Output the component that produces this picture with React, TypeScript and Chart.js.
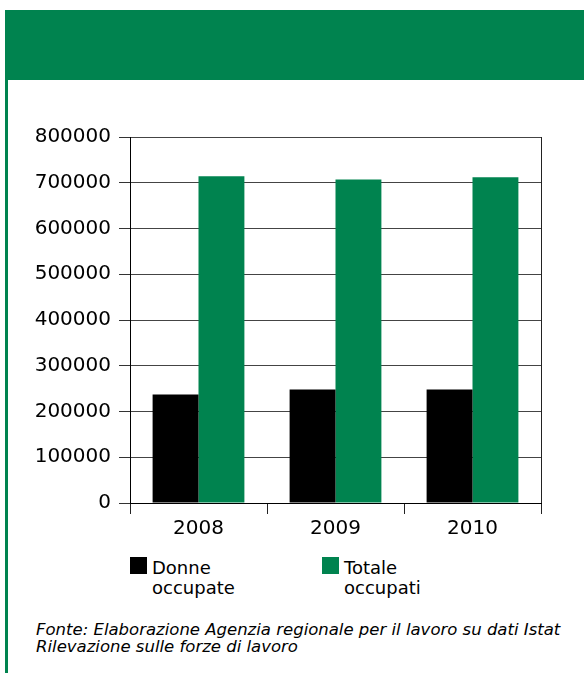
import React, { useEffect, useRef } from "react";
import { Chart, registerables } from "chart.js";

Chart.register(...registerables);

const categories = ["2008", "2009", "2010"];
const donneOccupate = [237000, 248000, 248000];
const totaleOccupati = [714000, 707000, 712000];
const yTicks = [0, 100000, 200000, 300000, 400000, 500000, 600000, 700000, 800000];
const legendLabels = [
  ["Donne", "occupate"],
  ["Totale", "occupati"],
];
const sourceLines = [
  "Fonte: Elaborazione Agenzia regionale per il lavoro su dati Istat",
  "Rilevazione sulle forze di lavoro",
];

const GREEN = "#00834F";
const BLACK = "#000000";

export default function App() {
  const ref = useRef<HTMLCanvasElement>(null);

  useEffect(() => {
    if (!ref.current) return;
    const chart = new Chart(ref.current, {
      type: "bar",
      data: {
        labels: categories,
        datasets: [
          {
            label: legendLabels[0].join(" "),
            data: donneOccupate,
            backgroundColor: BLACK,
            borderWidth: 0,
            categoryPercentage: 0.67,
            barPercentage: 1,
          },
          {
            label: legendLabels[1].join(" "),
            data: totaleOccupati,
            backgroundColor: GREEN,
            borderWidth: 0,
            categoryPercentage: 0.67,
            barPercentage: 1,
          },
        ],
      },
      options: {
        animation: false,
        responsive: false,
        maintainAspectRatio: false,
        layout: { padding: { left: 0, right: 43, top: 27, bottom: 0 } },
        plugins: {
          legend: { display: false },
          tooltip: { enabled: false },
        },
        scales: {
          x: {
            grid: {
              offset: true,
              drawOnChartArea: true,
              color: (c: any) => (c.type === "scale" ? "#222222" : "rgba(0,0,0,0)"),
              tickColor: "#222222",
              tickLength: 11,
              lineWidth: 1,
            },
            border: { color: "#000000", width: 1 },
            ticks: {
              color: "#000000",
              font: { family: "DejaVu Sans", size: 20 },
              padding: 3,
            },
            afterFit: (s: any) => {
              s.height = 42;
            },
          },
          y: {
            min: 0,
            max: 800000,
            grid: {
              color: "#444444",
              tickColor: "#333333",
              tickLength: 11,
              lineWidth: 1,
            },
            border: { color: "#000000", width: 1 },
            afterBuildTicks: (s: any) => {
              s.ticks = yTicks.map((v) => ({ value: v }));
            },
            ticks: {
              color: "#000000",
              font: { family: "DejaVu Sans", size: 20 },
              padding: 8,
              callback: (v: any) => String(v),
            },
            afterFit: (s: any) => {
              s.width = 130;
            },
          },
        },
      },
    });
    return () => chart.destroy();
  }, []);

  const legendColors = [BLACK, GREEN];
  const legendX = [130, 322];

  return (
    <div
      style={{
        position: "absolute",
        left: 0,
        top: 0,
        width: 584,
        height: 673,
        background: "#ffffff",
        overflow: "hidden",
      }}
    >
      <div style={{ position: "absolute", left: 5, top: 10, width: 579, height: 70, background: GREEN }} />
      <div style={{ position: "absolute", left: 5, top: 80, width: 3, height: 593, background: GREEN }} />
      <canvas
        ref={ref}
        width={584}
        height={435}
        style={{ position: "absolute", left: 0, top: 110, width: 584, height: 435, display: "block" }}
      />
      {legendLabels.map((lines, i) => (
        <React.Fragment key={i}>
          <div
            style={{
              position: "absolute",
              left: legendX[i],
              top: 557,
              width: 17,
              height: 17,
              background: legendColors[i],
            }}
          />
          <div
            style={{
              position: "absolute",
              left: legendX[i] + 22,
              top: 558,
              fontFamily: "DejaVu Sans",
              fontSize: 18,
              lineHeight: "20px",
              color: "#000",
              whiteSpace: "nowrap",
            }}
          >
            {lines.map((l, j) => (
              <div key={j}>{l}</div>
            ))}
          </div>
        </React.Fragment>
      ))}
      <div
        style={{
          position: "absolute",
          left: 36,
          top: 621,
          fontFamily: "DejaVu Sans",
          fontStyle: "italic",
          fontSize: 16.5,
          lineHeight: "17px",
          color: "#000",
          whiteSpace: "nowrap",
        }}
      >
        {sourceLines.map((l, j) => (
          <div key={j}>{l}</div>
        ))}
      </div>
    </div>
  );
}
